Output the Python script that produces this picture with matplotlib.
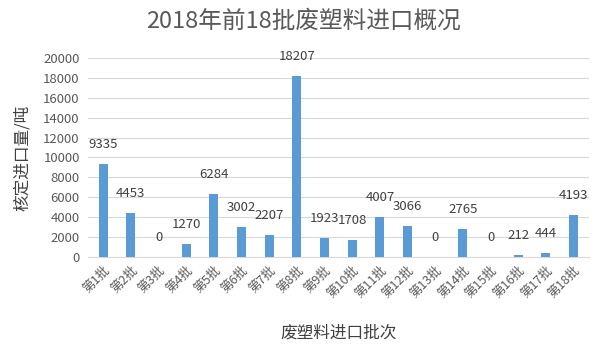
import matplotlib
matplotlib.use("Agg")
import matplotlib.pyplot as plt

plt.rcParams['font.family'] = ['Noto Sans CJK SC', 'DejaVu Sans']

categories = ["第%d批" % i for i in range(1, 19)]
values = [9335, 4453, 0, 1270, 6284, 3002, 2207, 18207, 1923, 1708, 4007, 3066, 0, 2765, 0, 212, 444, 4193]
yticks = [0, 2000, 4000, 6000, 8000, 10000, 12000, 14000, 16000, 18000, 20000]

fig = plt.figure(figsize=(6.07, 3.51), dpi=100)
ax = fig.add_axes([0.145, 0.268, 0.825, 0.567])
x = list(range(len(categories)))
ax.bar(x, values, width=0.33, color='#5B9BD5', zorder=3)
for xi, v in zip(x, values):
    ax.annotate(str(v), (xi, v), xytext=(0, 14), textcoords='offset points',
                ha='center', va='center', fontsize=9.5, color='#404040')

ax.set_ylim(0, 20000)
ax.set_xlim(-0.55, len(categories) - 0.45)
ax.set_yticks(yticks)
ax.set_yticklabels([str(t) for t in yticks], fontsize=9.5, color='#595959')
ax.set_xticks(x)
ax.set_xticklabels(categories, rotation=45, ha='right', rotation_mode='anchor', fontsize=9, color='#595959')
ax.tick_params(axis='x', length=0, pad=5)
ax.tick_params(axis='y', length=0, pad=6)
ax.grid(axis='y', color='#D9D9D9', linewidth=0.8, zorder=0)
for s in ['top', 'right', 'left']:
    ax.spines[s].set_visible(False)
ax.spines['bottom'].set_color('#D9D9D9')

ax.set_ylabel('核定进口量/吨', fontsize=12, color='#404040', labelpad=9)
ax.set_xlabel('废塑料进口批次', fontsize=12, color='#404040', labelpad=17)
fig.text(0.5, 0.94, '2018年前18批废塑料进口概况', ha='center', va='center', fontsize=17, color='#595959')

fig.savefig('out.png', dpi=100)
